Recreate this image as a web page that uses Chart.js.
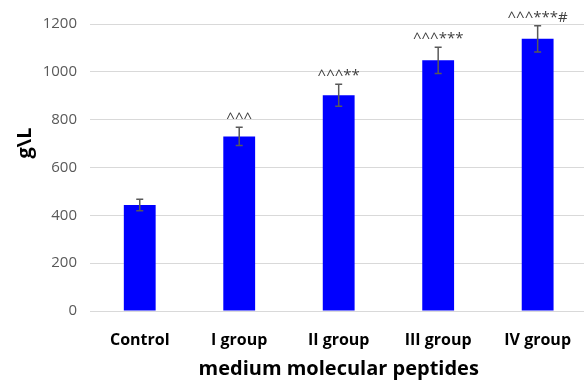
<!DOCTYPE html>
<html>
<head>
<meta charset="utf-8">
<script src="https://cdn.jsdelivr.net/npm/chart.js@4"></script>
<style>
  html, body { margin: 0; padding: 0; background: #fff; overflow: hidden; }
  #wrap { width: 584px; height: 383px; overflow: hidden; }
  #c { display: block; }
</style>
</head>
<body>
<div id="wrap"><canvas id="c" width="591" height="383"></canvas></div>
<script>
const categories = ['Control', 'I group', 'II group', 'III group', 'IV group'];
const means = [443, 730, 902, 1048, 1138];
const errors = [24, 38, 46, 55, 55];
const marks = ['', '^^^', '^^^**', '^^^***', '^^^***#'];
const yTicks = [0, 200, 400, 600, 800, 1000, 1200];

const FONT = '"Open Sans", sans-serif';

// Error bars with caps, plus significance marks above each bar
const errorBarPlugin = {
  id: 'errorBars',
  afterDatasetsDraw(chart) {
    const ctx = chart.ctx;
    const meta = chart.getDatasetMeta(0);
    const y = chart.scales.y;
    ctx.save();
    meta.data.forEach((bar, i) => {
      const x = bar.x;
      const top = y.getPixelForValue(means[i] + errors[i]);
      const bot = y.getPixelForValue(means[i] - errors[i]);
      ctx.strokeStyle = '#595959';
      ctx.lineWidth = 1.5;
      ctx.beginPath();
      ctx.moveTo(x, top); ctx.lineTo(x, bot);
      ctx.moveTo(x - 3.5, top); ctx.lineTo(x + 3.5, top);
      ctx.moveTo(x - 3.5, bot); ctx.lineTo(x + 3.5, bot);
      ctx.stroke();
      if (marks[i]) {
        ctx.fillStyle = '#404040';
        ctx.font = '15px ' + FONT;
        ctx.textAlign = 'center';
        ctx.textBaseline = 'alphabetic';
        ctx.fillText(marks[i], x, top - 4);
      }
    });
    ctx.restore();
  }
};

// Rotated y-axis title
const yTitlePlugin = {
  id: 'yTitle',
  afterDraw(chart) {
    const ctx = chart.ctx;
    ctx.save();
    ctx.translate(25, 143);
    ctx.rotate(-Math.PI / 2);
    ctx.fillStyle = '#000';
    ctx.font = 'bold 20px ' + FONT;
    ctx.textAlign = 'center';
    ctx.textBaseline = 'middle';
    ctx.fillText('g\\L', 0, 0);
    ctx.restore();
  }
};

new Chart(document.getElementById('c'), {
  type: 'bar',
  data: {
    labels: categories,
    datasets: [{
      data: means,
      backgroundColor: '#0000ff',
      borderWidth: 0,
      barPercentage: 0.32,
      categoryPercentage: 1.0
    }]
  },
  options: {
    responsive: false,
    animation: false,
    layout: { padding: { top: 24, right: 0, bottom: 0, left: 0 } },
    plugins: { legend: { display: false }, tooltip: { enabled: false } },
    scales: {
      x: {
        grid: { display: false, drawTicks: false },
        border: { display: true, color: '#d9d9d9', width: 1 },
        ticks: { color: '#000', font: { family: FONT, size: 16, weight: 'bold' }, padding: 20 },
        title: { display: true, text: 'medium molecular peptides', color: '#000',
                 font: { family: FONT, size: 20, weight: 'bold' }, padding: { top: 0, bottom: 2 } },
        afterFit(scale) { scale.height = 72; }
      },
      y: {
        min: 0, max: 1200,
        afterBuildTicks(scale) { scale.ticks = yTicks.map(v => ({ value: v })); },
        grid: { color: '#d9d9d9', drawTicks: false },
        border: { display: false },
        ticks: { color: '#595959', font: { family: FONT, size: 15 }, padding: 13,
                 callback: (v) => String(v) },
        afterFit(scale) { scale.width = 90; }
      }
    }
  },
  plugins: [errorBarPlugin, yTitlePlugin]
});
</script>
</body>
</html>
